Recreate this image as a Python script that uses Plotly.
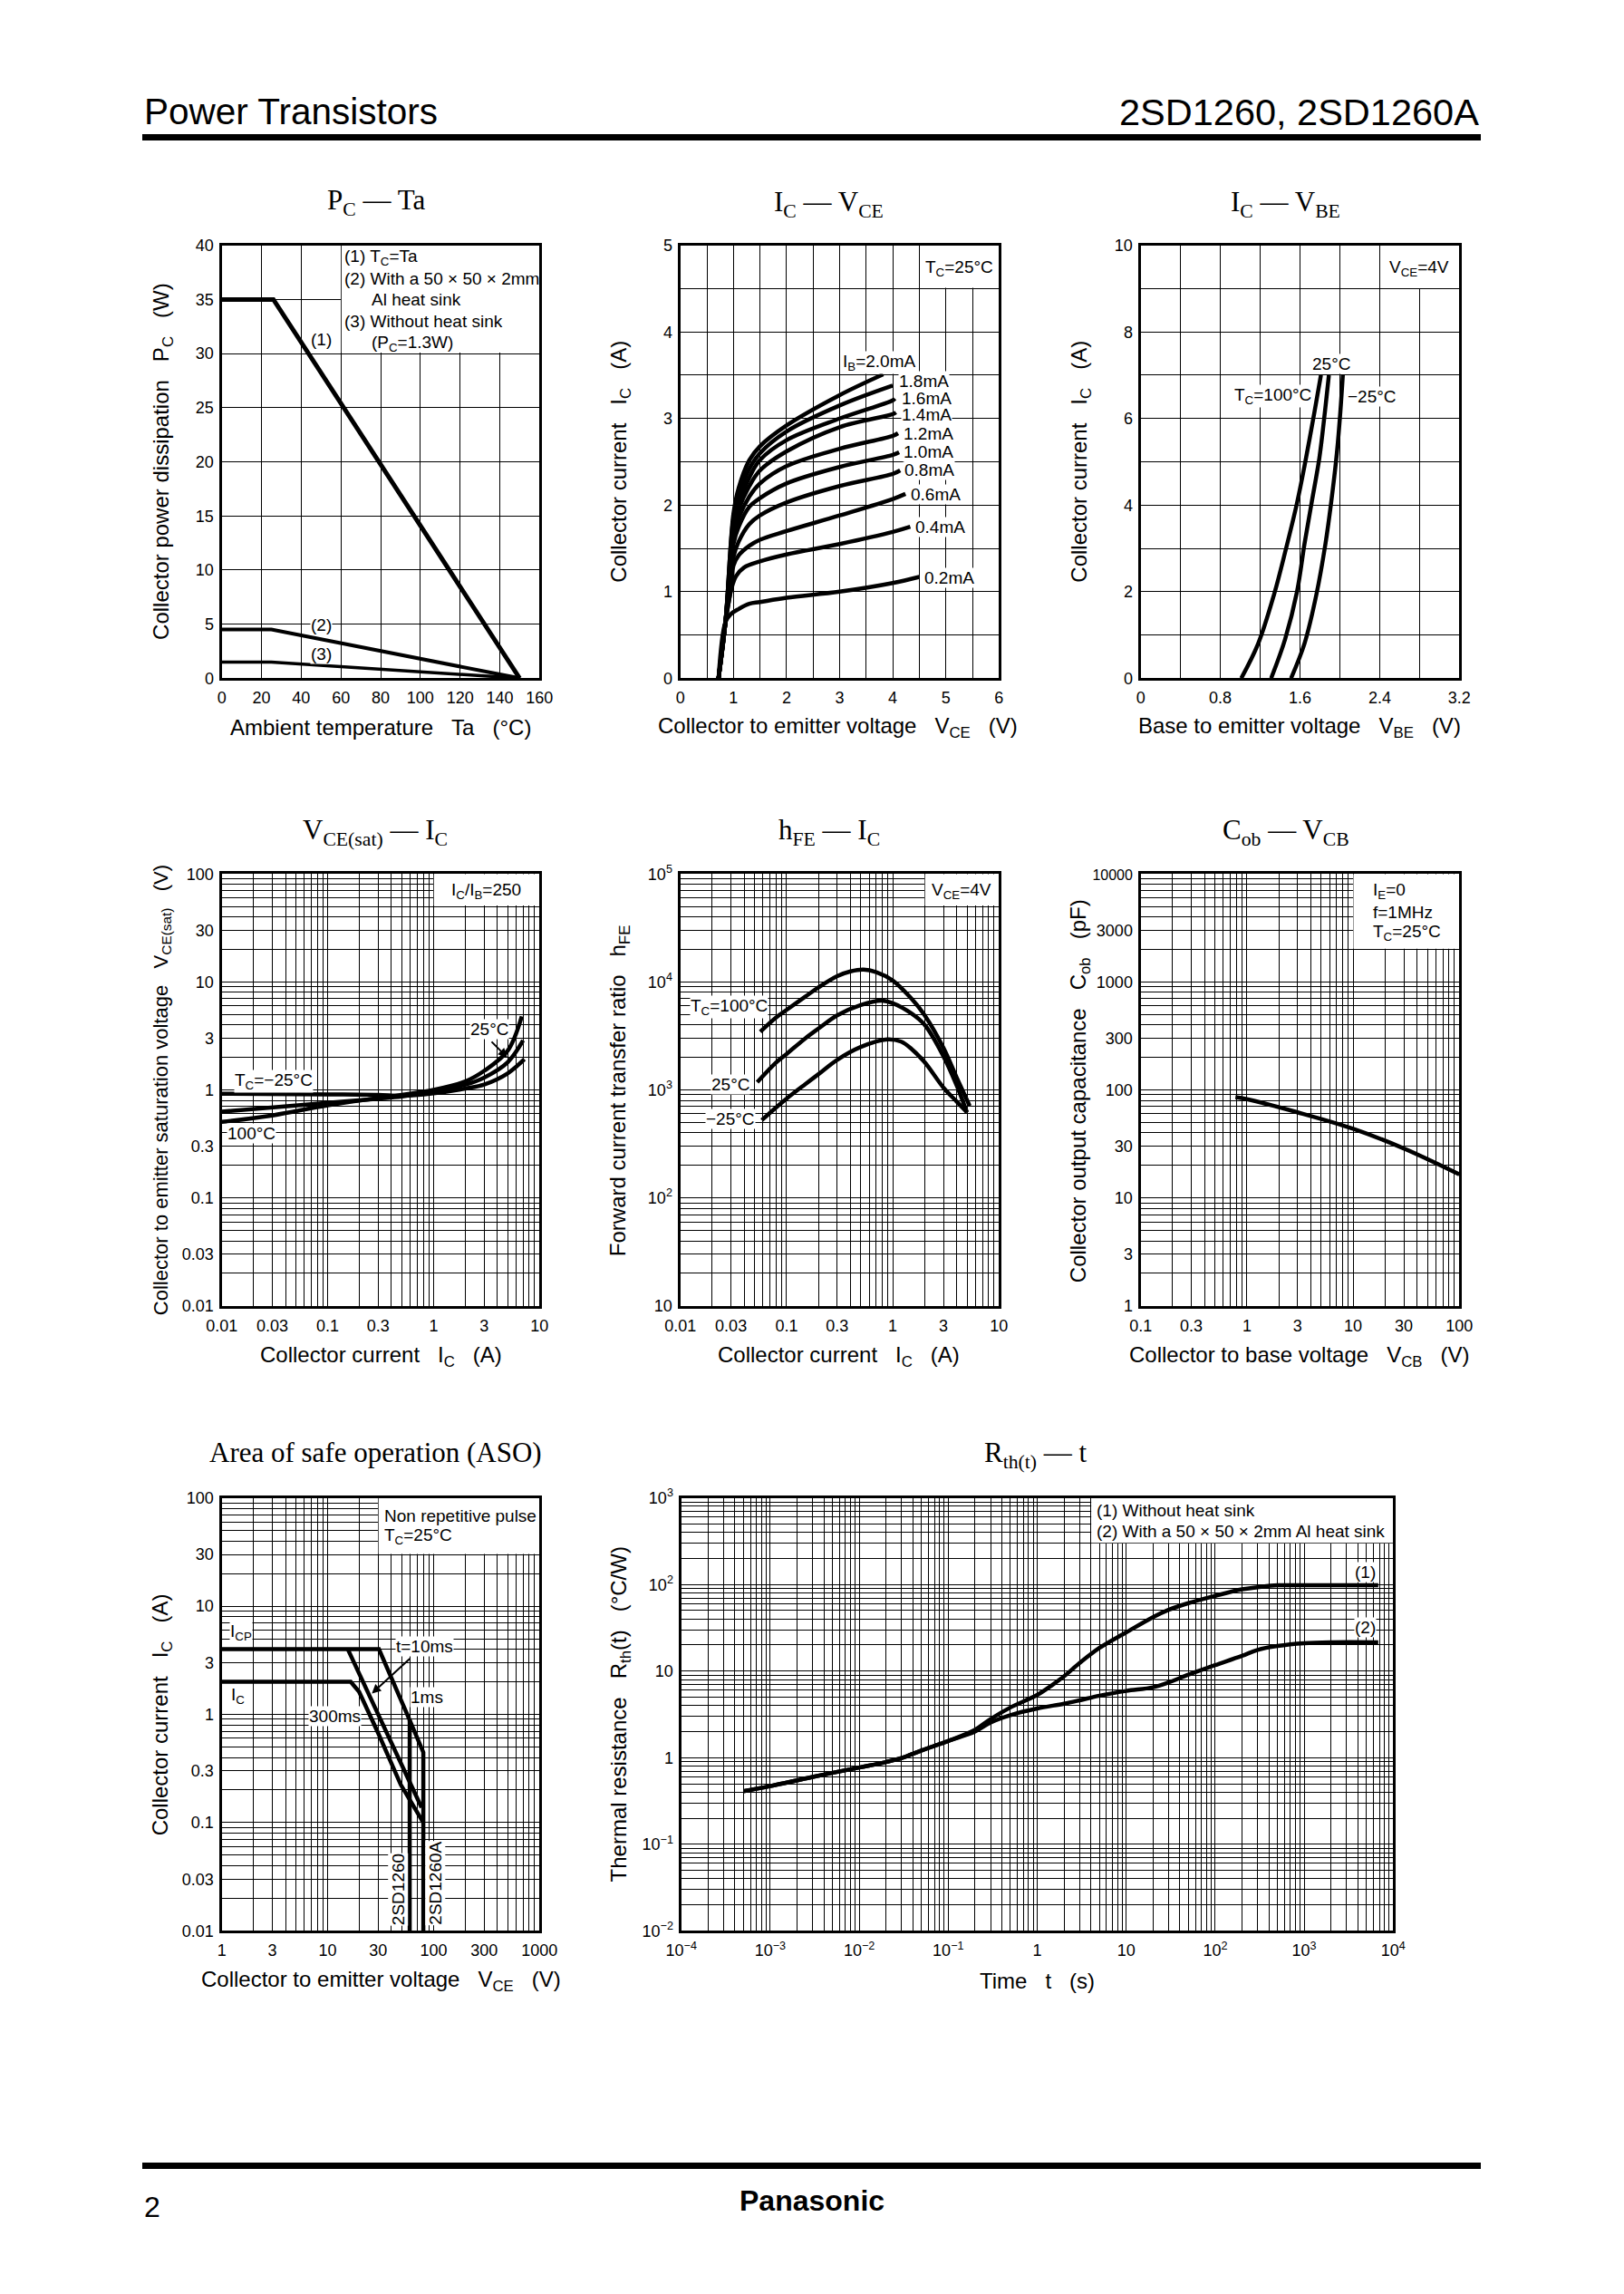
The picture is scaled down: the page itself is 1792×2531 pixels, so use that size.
import plotly.graph_objects as go

W, H = 1792, 2531
SANS = "Liberation Sans"
SERIF = "Liberation Serif"
NB = "\u00a0\u00a0\u00a0"

# ---------- data ----------
pc_ta_x1 = [0, 26, 150]
pc_ta_y1 = [35, 35, 0]
pc_ta_x2 = [0, 25, 150]
pc_ta_y2 = [4.5, 4.5, 0]
pc_ta_x3 = [0, 25, 150]
pc_ta_y3 = [1.5, 1.5, 0]

vce_02 = [0.72, 0.85, 0.95, 1.1, 1.3, 1.5, 2, 3, 4, 4.5]
ic_02 = [0, 0.65, 0.74, 0.8, 0.86, 0.88, 0.93, 1.0, 1.1, 1.17]
vce_04 = [0.72, 0.85, 0.97, 1.05, 1.2, 1.5, 2, 3, 4, 4.33]
ic_04 = [0, 0.65, 1.05, 1.18, 1.28, 1.35, 1.43, 1.55, 1.69, 1.75]
vce_06 = [0.72, 0.85, 0.97, 1.0, 1.1, 1.3, 1.5, 2, 3, 4, 4.24]
ic_06 = [0, 0.65, 1.1, 1.3, 1.42, 1.53, 1.6, 1.7, 1.88, 2.07, 2.13]
vce_08 = [0.72, 0.85, 1.0, 1.1, 1.3, 1.5, 2, 3, 4, 4.14]
ic_08 = [0, 0.65, 1.4, 1.58, 1.78, 1.88, 2.03, 2.22, 2.36, 2.4]
vce_10 = [0.72, 0.85, 1.0, 1.1, 1.3, 1.5, 2, 3, 4, 4.12]
ic_10 = [0, 0.65, 1.55, 1.75, 1.98, 2.08, 2.25, 2.44, 2.58, 2.61]
vce_12 = [0.72, 0.85, 1.0, 1.1, 1.3, 1.5, 2, 3, 4, 4.1]
ic_12 = [0, 0.65, 1.6, 1.85, 2.1, 2.25, 2.45, 2.65, 2.8, 2.83]
vce_14 = [0.72, 0.85, 1.0, 1.1, 1.3, 1.5, 2, 3, 4, 4.06]
ic_14 = [0, 0.65, 1.7, 1.95, 2.22, 2.4, 2.62, 2.9, 3.05, 3.07]
vce_16 = [0.72, 0.85, 1.0, 1.1, 1.3, 1.5, 2, 3, 4, 4.04]
ic_16 = [0, 0.65, 1.75, 2.0, 2.32, 2.52, 2.75, 3.0, 3.21, 3.23]
vce_18 = [0.72, 0.85, 1.0, 1.1, 1.3, 1.5, 2, 3, 4]
ic_18 = [0, 0.65, 1.85, 2.1, 2.42, 2.6, 2.85, 3.15, 3.38]
vce_20 = [0.72, 0.85, 1.0, 1.1, 1.3, 1.5, 2, 3, 3.82]
ic_20 = [0, 0.65, 1.9, 2.2, 2.52, 2.68, 2.92, 3.27, 3.51]

vbe_100 = [1.01, 1.18, 1.34, 1.46, 1.57, 1.645, 1.745, 1.81]
ic_vbe_100 = [0, 0.8, 1.94, 3, 4.05, 4.9, 6.15, 7]
vbe_25 = [1.31, 1.45, 1.57, 1.645, 1.72, 1.795, 1.85, 1.89]
ic_vbe_25 = [0, 0.9, 2, 3.1, 4.1, 5.1, 6.15, 7]
vbe_m25 = [1.51, 1.645, 1.765, 1.855, 1.915, 1.97, 2.005, 2.03]
ic_vbe_m25 = [0, 0.8, 1.94, 3.1, 4.1, 5.2, 6.15, 7]

sat_ic_m25 = [0.01, 0.1, 0.3, 0.5, 1, 2, 3, 5, 7.2]
sat_v_m25 = [0.92, 0.91, 0.9, 0.88, 0.93, 1.03, 1.12, 1.42, 1.92]
sat_ic_25 = [0.01, 0.1, 0.3, 0.5, 1, 2, 3, 5, 7]
sat_v_25 = [0.63, 0.76, 0.83, 0.87, 0.97, 1.12, 1.3, 1.8, 2.87]
sat_ic_100 = [0.01, 0.03, 0.1, 0.3, 0.5, 1, 2, 3, 5, 6.8]
sat_v_100 = [0.505, 0.58, 0.72, 0.84, 0.9, 1.0, 1.2, 1.5, 2.3, 4.8]

hfe_ic_100 = [0.0566, 0.08, 0.1, 0.15, 0.2, 0.3, 0.4, 0.53, 0.7, 1, 1.5, 2, 3, 4, 5.3]
hfe_100 = [3460, 4700, 5500, 7300, 8900, 11300, 12500, 13000, 12300, 10300, 7000, 4900, 2450, 1300, 710]
hfe_ic_25 = [0.053, 0.08, 0.1, 0.15, 0.2, 0.3, 0.5, 0.785, 1, 1.5, 2, 3, 4, 5]
hfe_25 = [1180, 1800, 2150, 3000, 3700, 4900, 6100, 6700, 6350, 5100, 4000, 2050, 1100, 620]
hfe_ic_m25 = [0.0585, 0.08, 0.1, 0.15, 0.2, 0.3, 0.5, 0.89, 1.2, 1.5, 2, 3, 4, 5]
hfe_m25 = [525, 690, 830, 1130, 1400, 1900, 2500, 2940, 2800, 2400, 1800, 1050, 780, 620]

cob_v = [0.78, 1, 3, 10, 30, 100]
cob_pf = [85.6, 82, 62, 43.7, 28.7, 16.5]

aso_1ms_x = [1, 30.5, 59.5, 80, 80]
aso_1ms_y = [4, 4, 0.885, 0.445, 0.01]
aso_10ms_x = [15.5, 77]
aso_10ms_y = [4, 0.138]
aso_300ms_x = [1, 16.5, 19.8, 30, 49, 77, 80]
aso_300ms_y = [2, 2, 1.62, 0.67, 0.224, 0.104, 0.1]
aso_2sd1260_x = [59.5, 59.5]
aso_2sd1260_y = [0.885, 0.01]

rth_t1 = [5e-4, 1e-3, 3e-3, 1e-2, 0.02, 0.03, 0.05, 0.1, 0.2, 0.3, 0.5, 1, 1.5, 2, 3, 5, 10, 20, 30, 50, 100, 200, 300, 500, 1000, 6800]
rth_r1 = [0.41, 0.47, 0.6, 0.77, 0.89, 0.99, 1.21, 1.56, 2.1, 2.8, 3.8, 5.3, 7.0, 8.7, 12.4, 18.5, 28, 42, 51, 61, 74, 88, 93, 98, 98, 98]
rth_t2 = [5e-4, 1e-3, 3e-3, 1e-2, 0.02, 0.03, 0.05, 0.1, 0.2, 0.3, 0.5, 1, 2, 3, 5, 10, 20, 30, 50, 100, 200, 300, 500, 1000, 2000, 6800]
rth_r2 = [0.41, 0.47, 0.6, 0.77, 0.89, 0.99, 1.21, 1.56, 2.0, 2.55, 3.1, 3.7, 4.2, 4.6, 5.2, 5.9, 6.5, 7.4, 9.1, 11.7, 15, 17.6, 19.5, 21, 21.5, 21.5]

# ---------- tick labels ----------
DEC = [1, 2, 3, 4, 5, 6, 7, 8, 9]
def log_grid(lo, hi):
    return [m * 10.0 ** e for e in range(lo, hi) for m in DEC] + [10.0 ** hi]

t1_x = [0, 20, 40, 60, 80, 100, 120, 140, 160]
t1_y = [0, 5, 10, 15, 20, 25, 30, 35, 40]
t2_x = [0, 1, 2, 3, 4, 5, 6]
t2_xg = [0, 0.5, 1, 1.5, 2, 2.5, 3, 3.5, 4, 4.5, 5, 5.5, 6]
t2_y = [0, 1, 2, 3, 4, 5]
t2_yg = [0, 0.5, 1, 1.5, 2, 2.5, 3, 3.5, 4, 4.5, 5]
t3_x = [0, 0.8, 1.6, 2.4, 3.2]
t3_xt = ["0", "0.8", "1.6", "2.4", "3.2"]
t3_xg = [0, 0.4, 0.8, 1.2, 1.6, 2.0, 2.4, 2.8, 3.2]
t3_y = [0, 2, 4, 6, 8, 10]
t3_yg = [0, 1, 2, 3, 4, 5, 6, 7, 8, 9, 10]
ic_vals = [0.01, 0.03, 0.1, 0.3, 1, 3, 10]
ic_text = ["0.01", "0.03", "0.1", "0.3", "1", "3", "10"]
v4_vals = [0.01, 0.03, 0.1, 0.3, 1, 3, 10, 30, 100]
v4_text = ["0.01", "0.03", "0.1", "0.3", "1", "3", "10", "30", "100"]
h_vals = [10, 100, 1000, 10000, 100000]
h_text = ["10", "10<sup>2</sup>", "10<sup>3</sup>", "10<sup>4</sup>", "10<sup>5</sup>"]
v6_xvals = [0.1, 0.3, 1, 3, 10, 30, 100]
v6_xtext = ["0.1", "0.3", "1", "3", "10", "30", "100"]
c_vals = [1, 3, 10, 30, 100, 300, 1000, 3000, 10000]
c_text = ["1", "3", "10", "30", "100", "300", "1000", "3000", '<span style="font-size:16px">10000</span>']
a_xvals = [1, 3, 10, 30, 100, 300, 1000]
a_xtext = ["1", "3", "10", "30", "100", "300", "1000"]
r_xvals = [1e-4, 1e-3, 1e-2, 1e-1, 1, 10, 100, 1000, 10000]
r_xtext = ["10<sup>\u22124</sup>", "10<sup>\u22123</sup>", "10<sup>\u22122</sup>", "10<sup>\u22121</sup>",
           "1", "10", "10<sup>2</sup>", "10<sup>3</sup>", "10<sup>4</sup>"]
r_yvals = [1e-2, 1e-1, 1, 10, 100, 1000]
r_ytext = ["10<sup>\u22122</sup>", "10<sup>\u22121</sup>", "1", "10", "10<sup>2</sup>", "10<sup>3</sup>"]

# ---------- layout of the panels (page pixels: x0,x1,y0,y1, inner edge of the frame) ----------
ROW1, ROW2, ROW3 = (270.7, 748.3), (964.2, 1440.8), (1652.7, 2130.3)
COL1, COL2, COL3 = (244.7, 595.3), (750.7, 1102.3), (1258.7, 1610.3)
FRAMES = {1: COL1 + ROW1, 2: COL2 + ROW1, 3: COL3 + ROW1,
          4: COL1 + ROW2, 5: COL2 + ROW2, 6: COL3 + ROW2,
          7: COL1 + ROW3, 8: (751.7, 1537.3) + ROW3}
# the same frames in the measuring units of the label positions below
REF = {1: (305, 1370, 210, 1352), 2: (268, 1332, 210, 1352), 3: (288, 1352, 210, 1352),
       4: (305, 1370, 196, 1335), 5: (268, 1332, 196, 1335), 6: (288, 1352, 196, 1335),
       7: (305, 1370, 170, 1310), 8: (152, 1493, 170, 1310)}

fig = go.Figure()
annos, shapes = [], []
layout = {}


def xid(n):
    return "x" if n == 1 else f"x{n}"


def yid(n):
    return "y" if n == 1 else f"y{n}"


def make_axis(letter, n, kind, rng, vals, text, grid):
    a = dict(
        type=kind,
        range=rng,
        automargin=False,
        anchor=yid(n) if letter == "x" else xid(n),
        tickmode="array",
        tickvals=vals,
        ticktext=text,
        ticks="outside",
        ticklen=3 if letter == "x" else 2,
        tickcolor="rgba(0,0,0,0)",
        tickfont=dict(family=SANS, size=18, color="black"),
        showgrid=True,
        gridcolor="black",
        gridwidth=1,
        zeroline=False,
        showline=True,
        linecolor="black",
        linewidth=3.4,
        mirror=True,
        minor=dict(tickmode="array", tickvals=grid, showgrid=True, gridcolor="black", gridwidth=1, ticks=""),
    )
    f = FRAMES[n]
    if letter == "x":
        a["domain"] = [f[0] / W, f[1] / W]
    else:
        a["domain"] = [1 - f[3] / H, 1 - f[2] / H]
    return a


def panel(n, xkind, xr, xv, xt, xg, ykind, yr, yv, yt, yg):
    layout[f"xaxis{n}"] = make_axis("x", n, xkind, xr, xv, xt, xg)
    layout[f"yaxis{n}"] = make_axis("y", n, ykind, yr, yv, yt, yg)


def curve(n, x, y, name, width=4.5, spline=True):
    line = dict(color="black", width=width)
    if spline:
        line.update(shape="spline", smoothing=1.0)
    fig.add_trace(go.Scatter(x=x, y=y, mode="lines", name=name, line=line, xaxis=xid(n), yaxis=yid(n),
                             showlegend=False, hoverinfo="skip"))


def box(n, x0, x1, y0, y1):
    shapes.append(dict(type="rect", xref=xid(n), yref=yid(n), x0=x0, x1=x1, y0=y0, y1=y1,
                       fillcolor="white", line=dict(width=0), layer="between"))


def note(n, zx, zy, text, size=19, anchor="center", angle=0, bg=None, fam=SANS):
    r = REF[n]
    a = dict(xref=f"{xid(n)} domain", yref=f"{yid(n)} domain",
             x=(zx - r[0]) / (r[1] - r[0]), y=(r[3] - zy) / (r[3] - r[2]),
             text=text, showarrow=False, xanchor=anchor, yanchor="middle", textangle=angle,
             font=dict(family=fam, size=size, color="black"), borderpad=0)
    if bg:
        a["bgcolor"] = bg
    annos.append(a)


def arrow(n, zx0, zy0, zx1, zy1):
    r = REF[n]
    f = FRAMES[n]
    sx = (f[1] - f[0]) / (r[1] - r[0])
    sy = (f[3] - f[2]) / (r[3] - r[2])
    annos.append(dict(xref=f"{xid(n)} domain", yref=f"{yid(n)} domain",
                      x=(zx1 - r[0]) / (r[1] - r[0]), y=(r[3] - zy1) / (r[3] - r[2]),
                      ax=(zx0 - zx1) * sx, ay=(zy0 - zy1) * sy, text="", showarrow=True,
                      arrowhead=2, arrowsize=1, arrowwidth=2, arrowcolor="black"))


def frame_text(n, title, tx, ty, ylabel, yx, yy, xlabel, lx, ly, ysize=24):
    note(n, tx, ty, title, size=31, fam=SERIF)
    note(n, yx, yy, ylabel, size=ysize, angle=-90)
    note(n, lx, ly, xlabel, size=24)


WH = "white"

# 1  PC - Ta
panel(1, "linear", [0, 160], t1_x, [str(v) for v in t1_x], t1_x,
      "linear", [0, 40], t1_y, [str(v) for v in t1_y], t1_y)
box(1, 60.3, 160, 30.1, 40)
curve(1, pc_ta_x1, pc_ta_y1, "(1)", 5, False)
curve(1, pc_ta_x2, pc_ta_y2, "(2)", 4, False)
curve(1, pc_ta_x3, pc_ta_y3, "(3)", 3.5, False)
frame_text(1, "P<sub>C</sub> \u2014 Ta", 822, 95,
           f"Collector power dissipation{NB}P<sub>C</sub>{NB}(W)", 105, 780,
           f"Ambient temperature{NB}Ta{NB}(\u00b0C)", 838, 1482)
note(1, 712, 242, "(1) T<sub>C</sub>=Ta", anchor="left")
note(1, 712, 298, "(2) With a 50 \u00d7 50 \u00d7 2mm", anchor="left")
note(1, 805, 354, "Al heat sink", anchor="left")
note(1, 712, 410, "(3) Without heat sink", anchor="left")
note(1, 805, 468, "(P<sub>C</sub>=1.3W)", anchor="left")
note(1, 638, 458, "(1)", bg=WH)
note(1, 638, 1212, "(2)", bg=WH)
note(1, 638, 1288, "(3)", bg=WH)

# 2  IC - VCE
panel(2, "linear", [0, 6], t2_x, [str(v) for v in t2_x], t2_xg,
      "linear", [0, 5], t2_y, [str(v) for v in t2_y], t2_yg)
box(2, 4.52, 6, 4.51, 5)
for xs, ys, nm in [(vce_02, ic_02, "0.2mA"), (vce_04, ic_04, "0.4mA"), (vce_06, ic_06, "0.6mA"),
                   (vce_08, ic_08, "0.8mA"), (vce_10, ic_10, "1.0mA"), (vce_12, ic_12, "1.2mA"),
                   (vce_14, ic_14, "1.4mA"), (vce_16, ic_16, "1.6mA"), (vce_18, ic_18, "1.8mA"),
                   (vce_20, ic_20, "2.0mA")]:
    curve(2, xs, ys, nm)
frame_text(2, "I<sub>C</sub> \u2014 V<sub>CE</sub>", 765, 100,
           f"Collector current{NB}I<sub>C</sub>{NB}(A)", 65, 780,
           f"Collector to emitter voltage{NB}V<sub>CE</sub>{NB}(V)", 795, 1482)
note(2, 1198, 270, "T<sub>C</sub>=25\u00b0C")
note(2, 932, 518, "I<sub>B</sub>=2.0mA", bg=WH)
for zx, zy, t in [(1082, 567, "1.8mA"), (1090, 613, "1.6mA"), (1092, 657, "1.4mA"), (1097, 706, "1.2mA"),
                  (1097, 755, "1.0mA"), (1100, 803, "0.8mA"), (1122, 866, "0.6mA"), (1135, 952, "0.4mA"),
                  (1165, 1087, "0.2mA")]:
    note(2, zx, zy, t, bg=WH)

# 3  IC - VBE
panel(3, "linear", [0, 3.2], t3_x, t3_xt, t3_xg,
      "linear", [0, 10], t3_y, [str(v) for v in t3_y], t3_yg)
box(3, 2.41, 3.2, 9.01, 10)
curve(3, vbe_100, ic_vbe_100, "100")
curve(3, vbe_25, ic_vbe_25, "25")
curve(3, vbe_m25, ic_vbe_m25, "-25")
frame_text(3, "I<sub>C</sub> \u2014 V<sub>BE</sub>", 772, 100,
           f"Collector current{NB}I<sub>C</sub>{NB}(A)", 85, 780,
           f"Base to emitter voltage{NB}V<sub>BE</sub>{NB}(V)", 818, 1482)
note(3, 1218, 270, "V<sub>CE</sub>=4V")
note(3, 925, 522, "25\u00b0C", bg=WH)
note(3, 728, 608, "T<sub>C</sub>=100\u00b0C", bg=WH)
note(3, 1060, 610, "\u221225\u00b0C", bg=WH)

# 4  VCE(sat) - IC
panel(4, "log", [-2, 1], ic_vals, ic_text, log_grid(-2, 1),
      "log", [-2, 2], v4_vals, v4_text, log_grid(-2, 2))
box(4, 1.006, 10, 51, 100)
curve(4, sat_ic_m25, sat_v_m25, "-25")
curve(4, sat_ic_25, sat_v_25, "25")
curve(4, sat_ic_100, sat_v_100, "100")
frame_text(4, "V<sub>CE(sat)</sub> \u2014 I<sub>C</sub>", 820, 85,
           f"Collector to emitter saturation voltage{NB}V<sub>CE(sat)</sub>{NB}(V)", 105, 765,
           f"Collector current{NB}I<sub>C</sub>{NB}(A)", 838, 1468, ysize=22)
note(4, 1192, 242, "I<sub>C</sub>/I<sub>B</sub>=250")
note(4, 1203, 605, "25\u00b0C", bg=WH)
note(4, 478, 743, "T<sub>C</sub>=\u221225\u00b0C", bg=WH)
note(4, 405, 880, "100\u00b0C", bg=WH)
arrow(4, 1205, 635, 1262, 680)

# 5  hFE - IC
panel(5, "log", [-2, 1], ic_vals, ic_text, log_grid(-2, 1),
      "log", [1, 5], h_vals, h_text, log_grid(1, 5))
box(5, 2.012, 10, 51000, 100000)
curve(5, hfe_ic_100, hfe_100, "100")
curve(5, hfe_ic_25, hfe_25, "25")
curve(5, hfe_ic_m25, hfe_m25, "-25")
frame_text(5, "h<sub>FE</sub> \u2014 I<sub>C</sub>", 765, 85,
           f"Forward current transfer ratio{NB}h<sub>FE</sub>", 65, 768,
           f"Collector current{NB}I<sub>C</sub>{NB}(A)", 797, 1468)
note(5, 1207, 242, "V<sub>CE</sub>=4V")
note(5, 432, 548, "T<sub>C</sub>=100\u00b0C", bg=WH)
note(5, 435, 750, "25\u00b0C", bg=WH)
note(5, 435, 843, "\u221225\u00b0C", bg=WH)

# 6  Cob - VCB
panel(6, "log", [-1, 2], v6_xvals, v6_xtext, log_grid(-1, 2),
      "log", [0, 4], c_vals, c_text, log_grid(0, 4))
box(6, 10.06, 100, 2030, 10000)
curve(6, cob_v, cob_pf, "Cob")
frame_text(6, "C<sub>ob</sub> \u2014 V<sub>CB</sub>", 772, 85,
           f"Collector output capacitance{NB}C<sub>ob</sub>{NB}(pF)", 85, 768,
           f"Collector to base voltage{NB}V<sub>CB</sub>{NB}(V)", 818, 1468)
note(6, 1062, 242, "I<sub>E</sub>=0", anchor="left")
note(6, 1062, 297, "f=1MHz", anchor="left")
note(6, 1062, 352, "T<sub>C</sub>=25\u00b0C", anchor="left")

# 7  ASO
panel(7, "log", [0, 3], a_xvals, a_xtext, log_grid(0, 3),
      "log", [-2, 2], v4_vals, v4_text, log_grid(-2, 2))
box(7, 30.2, 1000, 30.3, 100)
curve(7, aso_1ms_x, aso_1ms_y, "1ms", 4.5, False)
curve(7, aso_10ms_x, aso_10ms_y, "10ms", 4.5, False)
curve(7, aso_300ms_x, aso_300ms_y, "300ms", 4.5, False)
curve(7, aso_2sd1260_x, aso_2sd1260_y, "2SD1260", 4.5, False)
frame_text(7, "Area of safe operation (ASO)", 822, 50,
           f"Collector current{NB}I<sub>C</sub>{NB}(A)", 105, 740,
           f"Collector to emitter voltage{NB}V<sub>CE</sub>{NB}(V)", 838, 1442)
note(7, 847, 217, "Non repetitive pulse", anchor="left")
note(7, 847, 272, "T<sub>C</sub>=25\u00b0C", anchor="left")
note(7, 985, 560, "t=10ms", bg=WH)
note(7, 992, 695, "1ms", bg=WH)
note(7, 685, 745, "300ms", bg=WH)
note(7, 370, 525, "I<sub>CP</sub>", bg=WH)
note(7, 360, 690, "I<sub>C</sub>", bg=WH)
note(7, 895, 1200, "2SD1260", angle=-90, bg=WH)
note(7, 1022, 1185, "2SD1260A", angle=-90, bg=WH)
arrow(7, 940, 590, 808, 685)

# 8  Rth - t
panel(8, "log", [-4, 4], r_xvals, r_xtext, log_grid(-4, 4),
      "log", [-2, 3], r_yvals, r_ytext, log_grid(-2, 3))
box(8, 4.05, 10000, 303, 1000)
curve(8, rth_t1, rth_r1, "(1)")
curve(8, rth_t2, rth_r2, "(2)")
frame_text(8, "R<sub>th(t)</sub> \u2014 t", 820, 55,
           f"Thermal resistance{NB}R<sub>th</sub>(t){NB}(\u00b0C/W)", 38, 740,
           f"Time{NB}t{NB}(s)", 822, 1442)
note(8, 933, 202, "(1) Without heat sink", anchor="left")
note(8, 933, 258, "(2) With a 50 \u00d7 50 \u00d7 2mm Al heat sink", anchor="left")
note(8, 1440, 365, "(1)", bg=WH)
note(8, 1440, 510, "(2)", bg=WH)


def page_text(px, py, text, size, anchor="left", bold=False):
    annos.append(dict(xref="paper", yref="paper", x=px / W, y=1 - py / H, text=f"<b>{text}</b>" if bold else text,
                      showarrow=False, xanchor=anchor, yanchor="middle",
                      font=dict(family=SANS, size=size, color="black")))


page_text(157, 123, "Power Transistors", 40.5)
page_text(1634, 123, "2SD1260, 2SD1260A", 41.5, anchor="right")
page_text(157, 2435, "2", 32)
page_text(896, 2428, "Panasonic", 32, anchor="center", bold=True)
for y0 in (148, 2386):
    shapes.append(dict(type="rect", xref="paper", yref="paper", x0=157 / W, x1=1634 / W,
                       y0=1 - (y0 + 7) / H, y1=1 - y0 / H, fillcolor="black", line=dict(width=0)))

fig.update_layout(width=W, height=H, margin=dict(l=0, r=0, t=0, b=0), paper_bgcolor="white",
                  plot_bgcolor="white", showlegend=False, annotations=annos, shapes=shapes,
                  font=dict(family=SANS, color="black"), **layout)
fig.write_html("out.html", config={"displayModeBar": False}, post_script="document.body.style.margin='0';")
